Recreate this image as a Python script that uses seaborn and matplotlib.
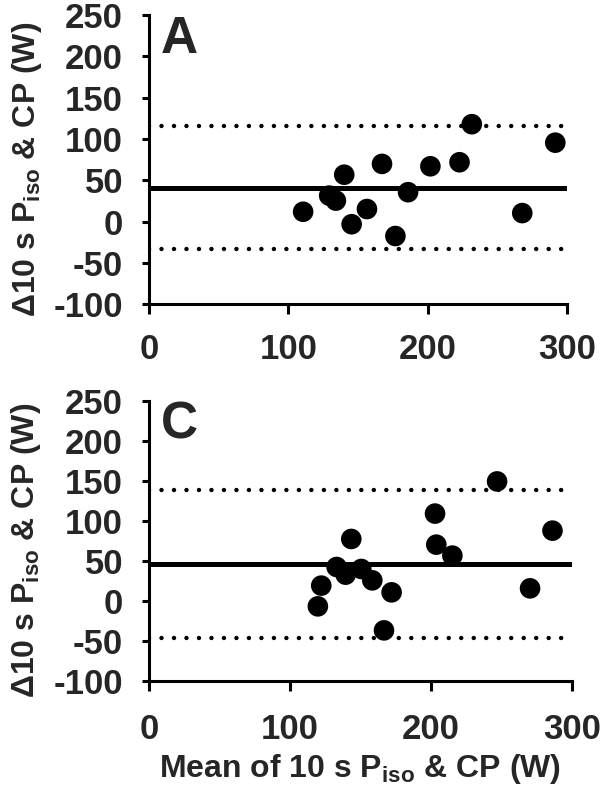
import matplotlib
matplotlib.use("Agg")
import matplotlib.pyplot as plt
import pandas as pd
import seaborn as sns

# panel A: Bland-Altman points (mean, difference)
a_mean = [110.7, 129.4, 134.2, 140.2, 145.5, 156.5, 167.3, 176.9, 186.0,
          202.0, 222.9, 231.7, 267.9, 291.6]
a_diff = [11.8, 31.4, 25.3, 56.7, -3.3, 15.1, 69.8, -17.6, 35.5,
          66.9, 71.8, 117.9, 10.2, 95.5]
a_bias, a_upper, a_lower = 40.4, 115.8, -33.0

# panel C
c_mean = [119.9, 122.3, 133.2, 139.6, 143.6, 150.7, 158.5, 166.8, 172.2,
          203.0, 203.9, 215.3, 247.0, 270.4, 286.3]
c_diff = [-7.1, 18.8, 42.1, 32.5, 77.1, 39.6, 25.4, -37.1, 10.4,
          108.8, 70.0, 56.3, 149.0, 15.4, 87.5]
c_bias, c_upper, c_lower = 45.9, 137.9, -46.6

xticks = [0, 100, 200, 300]
yticks = [-100, -50, 0, 50, 100, 150, 200, 250]

sns.set_style("ticks")
plt.rcParams['font.family'] = ['Liberation Sans', 'DejaVu Sans']
plt.rcParams['font.weight'] = 'bold'
plt.rcParams['mathtext.fontset'] = 'custom'
plt.rcParams['mathtext.rm'] = 'Liberation Sans:bold'
plt.rcParams['mathtext.bf'] = 'Liberation Sans:bold'
plt.rcParams['mathtext.default'] = 'bf'

fig = plt.figure(figsize=(6, 7.98), dpi=100)
ax_a = fig.add_axes([0.248, 0.619, 0.697, 0.362])
ax_c = fig.add_axes([0.248, 0.147, 0.705, 0.351])

ylab = "Δ10 s P$_{iso}$ & CP (W)"

panels = [
    (ax_a, a_mean, a_diff, a_bias, a_upper, a_lower, "A", 13.5),
    (ax_c, c_mean, c_diff, c_bias, c_upper, c_lower, "C", 16),
]

for ax, xm, yd, bias, up, lo, letter, xpad in panels:
    df = pd.DataFrame({'mean': xm, 'diff': yd})
    ax.axhline(bias, color='black', lw=3.6, zorder=1)
    for v in (up, lo):
        ax.axhline(v, color='black', lw=3.2, linestyle=(0, (0.01, 2.8)),
                   dash_capstyle='round', zorder=1)
    sns.scatterplot(data=df, x='mean', y='diff', ax=ax, s=220,
                    color='black', edgecolor='none', zorder=3, clip_on=False)
    ax.set_xlim(0, 300)
    ax.set_ylim(-100, 250)
    ax.set_xticks(xticks)
    ax.set_yticks(yticks)
    ax.set_xticklabels([str(t) for t in xticks], fontsize=25, fontweight='bold')
    ax.set_yticklabels([str(t) for t in yticks], fontsize=25, fontweight='bold')
    ax.tick_params(axis='x', length=7, width=2.2, pad=xpad, color='black')
    ax.tick_params(axis='y', length=5, width=2.2, pad=13.5, color='black')
    for side in ('left', 'bottom'):
        ax.spines[side].set_linewidth(2.2)
        ax.spines[side].set_color('black')
    for side in ('top', 'right'):
        ax.spines[side].set_visible(False)
    ax.set_xlabel("")
    ax.set_ylabel(ylab, fontsize=23, fontweight='bold')
    ax.yaxis.set_label_coords(-0.25, 0.465)
    ax.text(0.028, 1.0, letter, transform=ax.transAxes, fontsize=37,
            fontweight='bold', va='top', ha='left')
    ax.patch.set_visible(False)

ax_c.set_xlabel("Mean of 10 s P$_{iso}$ & CP (W)", fontsize=23, fontweight='bold')
ax_c.xaxis.set_label_coords(0.5, -0.255)

fig.savefig("out.png", dpi=100)
